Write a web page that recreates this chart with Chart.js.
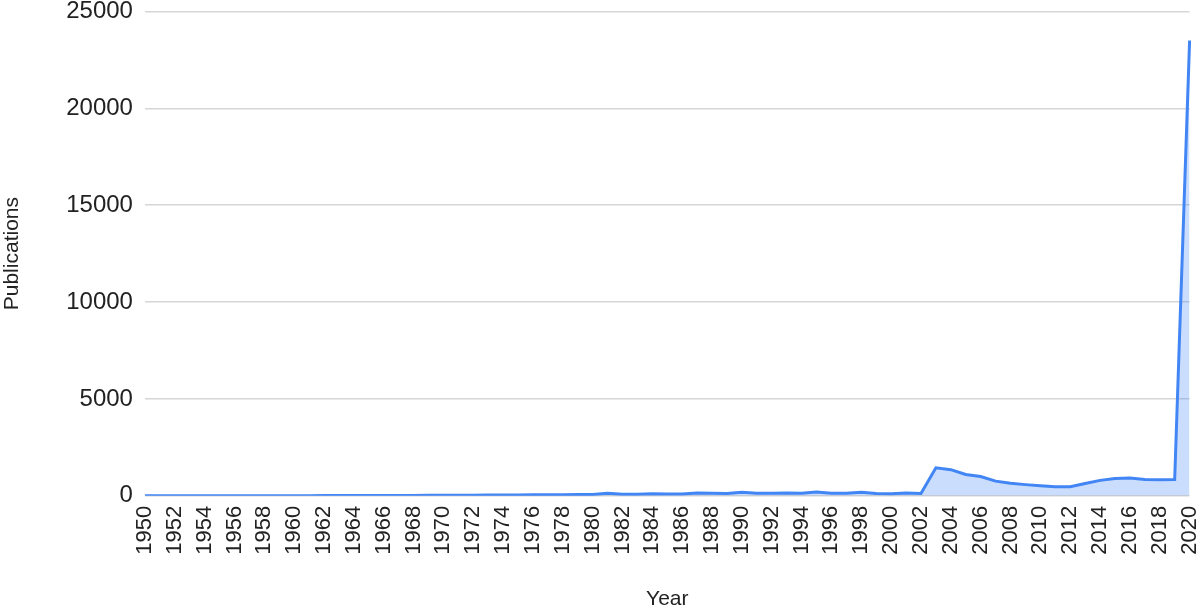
<!DOCTYPE html>
<html lang="en">
<head>
  <meta charset="UTF-8">
  <title>Publications per Year</title>
  <script src="https://cdn.jsdelivr.net/npm/chart.js@4.4.0/dist/chart.umd.min.js"></script>
  <style>
    html, body {
      margin: 0;
      padding: 0;
      background: #ffffff;
      overflow: hidden;
    }
    .wrap {
      position: relative;
      width: 1200px;
      height: 606px;
      overflow: hidden;
    }
    /* canvas box is a little larger than the window so the plot area lines up */
    .inner {
      position: absolute;
      left: 0;
      top: -15px;
      width: 1226px;
      height: 627px;
    }
  </style>
</head>
<body>
  <div class="wrap">
    <div class="inner">
      <canvas id="pubChart"></canvas>
    </div>
  </div>

  <script>
    // Years 1950 - 2020
    const years = [
      '1950','1951','1952','1953','1954','1955','1956','1957','1958','1959',
      '1960','1961','1962','1963','1964','1965','1966','1967','1968','1969',
      '1970','1971','1972','1973','1974','1975','1976','1977','1978','1979',
      '1980','1981','1982','1983','1984','1985','1986','1987','1988','1989',
      '1990','1991','1992','1993','1994','1995','1996','1997','1998','1999',
      '2000','2001','2002','2003','2004','2005','2006','2007','2008','2009',
      '2010','2011','2012','2013','2014','2015','2016','2017','2018','2019',
      '2020'
    ];

    // Publications per year
    const publications = [
      5, 5, 6, 6, 7, 8, 8, 9, 10, 10,
      12, 12, 14, 15, 16, 18, 20, 22, 24, 26,
      30, 32, 35, 38, 45, 50, 55, 60, 62, 65,
      70, 130, 80, 85, 110, 95, 100, 150, 130, 120,
      190, 140, 130, 150, 140, 200, 130, 140, 180, 120,
      110, 150, 120, 1450, 1350, 1100, 1000, 760, 650, 580,
      520, 470, 470, 640, 800, 900, 920, 850, 830, 840,
      23500
    ];

    const yTicks = [0, 5000, 10000, 15000, 20000, 25000];

    const textColor = '#222222';
    const fontFamily = 'Arial, "Liberation Sans", sans-serif';

    const ctx = document.getElementById('pubChart').getContext('2d');
    new Chart(ctx, {
      type: 'line',
      data: {
        labels: years,
        datasets: [{
          label: 'Publications',
          data: publications,
          borderColor: '#4285f4',
          backgroundColor: 'rgba(66, 133, 244, 0.28)',
          borderWidth: 3,
          fill: 'origin',
          tension: 0,
          pointRadius: 0
        }]
      },
      options: {
        responsive: true,
        maintainAspectRatio: false,
        animation: false,
        layout: {
          padding: 0
        },
        plugins: {
          legend: { display: false },
          tooltip: { enabled: false }
        },
        scales: {
          x: {
            offset: false,
            grid: { display: false, drawTicks: false },
            border: { display: false },
            ticks: {
              autoSkip: false,
              maxRotation: 90,
              minRotation: 90,
              padding: 10,
              color: textColor,
              font: { family: fontFamily, size: 22 },
              callback: function (val, i) {
                return i % 2 === 0 ? years[i] : '';
              }
            },
            title: {
              display: true,
              text: 'Year',
              color: textColor,
              font: { family: fontFamily, size: 21 },
              padding: { top: 22, bottom: 0 }
            }
          },
          y: {
            min: yTicks[0],
            max: yTicks[yTicks.length - 1],
            grid: { color: '#d6d6d6', lineWidth: 1.5, drawTicks: false },
            border: { display: false },
            afterBuildTicks: function (axis) {
              axis.ticks = yTicks.map(v => ({ value: v }));
            },
            ticks: {
              padding: 12,
              color: textColor,
              font: { family: fontFamily, size: 24 },
              callback: function (v) { return String(v); }
            },
            title: {
              display: true,
              text: 'Publications',
              color: textColor,
              font: { family: fontFamily, size: 21 },
              padding: { top: 0, bottom: 29 }
            }
          }
        }
      }
    });
  </script>
</body>
</html>
